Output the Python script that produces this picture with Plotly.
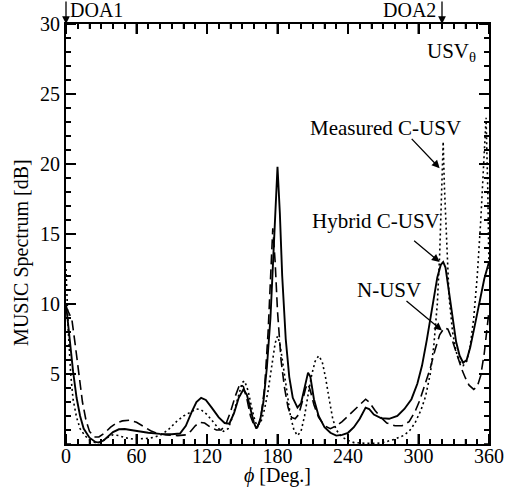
import plotly.graph_objects as go

# ---- data ----
phi_hybrid = [0, 3, 6, 9, 12, 15, 20, 25, 28, 32, 36, 40, 45, 50, 55, 60, 70, 80, 90, 97, 102, 107, 111, 115, 119, 124, 130, 135, 139, 143, 147, 151, 154, 157, 160, 162, 165, 168, 171, 174, 177, 180, 182, 184, 187, 190, 193, 197, 200, 203, 206, 208, 211, 215, 220, 225, 230, 235, 240, 245, 250, 255, 258, 262, 268, 275, 282, 288, 294, 299, 303, 307, 310, 313, 316, 319, 321, 323, 326, 329, 332, 335, 338, 341, 344, 347, 350, 353, 356, 360]
val_hybrid = [10.0, 7.5, 5.2, 3.3, 2.0, 1.1, 0.45, 0.15, 0.1, 0.25, 0.55, 0.85, 1.05, 1.07, 1.0, 0.92, 0.8, 0.72, 0.7, 0.75, 1.3, 2.3, 3.0, 3.3, 3.15, 2.6, 1.9, 1.5, 1.45, 2.2, 3.3, 3.9, 3.5, 2.5, 1.5, 1.1, 1.6, 3.0, 5.5, 9.0, 14.5, 19.8, 16.5, 12.0, 7.5, 4.8, 3.3, 2.6, 2.9, 4.0, 5.1, 4.8, 3.2, 2.0, 1.2, 0.8, 0.6, 0.65, 0.8, 1.2, 1.8, 2.6, 2.5, 2.1, 1.85, 1.8, 2.0, 2.5, 3.2, 4.3, 5.6, 7.4, 8.8, 10.5, 11.9, 12.8, 13.0, 12.6, 10.8, 8.8, 7.3, 6.3, 5.8, 6.0, 6.9, 8.1, 9.4, 10.6, 11.8, 13.0]

phi_nusv = [0, 3, 5, 8, 11, 14, 17, 20, 24, 28, 33, 38, 43, 48, 54, 60, 66, 72, 78, 85, 95, 102, 106, 110, 114, 118, 123, 128, 132, 136, 140, 144, 148, 151, 154, 157, 160, 163, 166, 169, 172, 174, 176, 178, 180, 183, 186, 189, 192, 195, 198, 201, 204, 206, 208, 211, 215, 220, 225, 230, 235, 240, 245, 250, 255, 258, 263, 268, 273, 280, 286, 292, 297, 301, 306, 310, 314, 318, 322, 325, 328, 331, 334, 337, 340, 343, 347, 350, 353, 356, 358, 360]
val_nusv = [9.8, 9.2, 8.9, 7.0, 4.8, 3.0, 1.7, 0.9, 0.5, 0.5, 0.8, 1.2, 1.5, 1.65, 1.7, 1.55, 1.25, 0.95, 0.75, 0.65, 0.6, 0.65, 0.9, 1.3, 1.55, 1.5, 1.2, 1.0, 1.0, 1.4, 2.3, 3.4, 4.3, 4.1, 3.2, 2.0, 1.35, 1.2, 2.0, 4.0, 8.0, 12.0, 15.4, 13.0, 9.5, 6.0, 4.0, 2.6, 1.9, 1.8, 2.1, 3.0, 4.0, 4.3, 3.8, 2.8, 1.9, 1.3, 1.1, 1.3, 1.6, 2.0, 2.4, 2.8, 3.2, 3.0, 2.4, 1.9, 1.5, 1.3, 1.3, 1.6, 2.3, 3.1, 4.3, 5.4, 6.7, 7.8, 8.3, 8.2, 7.6, 6.8, 6.0, 5.3, 4.7, 4.2, 3.9, 4.1, 4.9, 6.5, 8.0, 9.5]

phi_meas = [0, 2, 4, 6, 9, 12, 16, 20, 25, 30, 35, 40, 45, 50, 57, 64, 70, 76, 82, 88, 94, 100, 106, 111, 115, 120, 125, 130, 134, 138, 142, 146, 150, 152, 155, 158, 161, 163, 166, 169, 172, 175, 178, 180, 182, 185, 188, 191, 194, 197, 200, 203, 206, 209, 212, 215, 218, 221, 224, 227, 230, 235, 240, 245, 255, 265, 272, 280, 287, 292, 297, 302, 306, 310, 313, 316, 318, 320, 321, 322, 324, 326, 329, 332, 335, 338, 341, 344, 347, 350, 353, 356, 357.5, 359, 360]
val_meas = [12.5, 8.0, 5.0, 3.2, 1.9, 1.1, 0.6, 0.3, 0.1, 0.15, 0.45, 0.65, 0.6, 0.45, 0.35, 0.35, 0.4, 0.5, 0.7, 1.1, 1.6, 2.0, 2.3, 2.5, 2.45, 2.1, 1.6, 1.1, 0.9, 1.1, 2.0, 3.3, 4.4, 4.5, 3.8, 2.6, 1.6, 1.3, 1.6, 2.5, 3.8, 5.5, 7.2, 7.7, 7.2, 5.5, 3.6, 2.0, 1.0, 0.6, 0.9, 2.0, 3.5, 4.9, 5.9, 6.3, 5.9, 4.7, 3.2, 1.8, 1.0, 0.5, 0.25, 0.1, 0.05, 0.05, 0.15, 0.35, 0.6, 0.9, 1.5, 2.4, 3.4, 5.0, 7.0, 10.0, 13.5, 18.0, 21.6, 18.5, 14.0, 10.5, 8.0, 6.6, 5.9, 5.6, 5.9, 7.0, 9.0, 12.0, 16.0, 21.0, 23.3, 18.0, 12.5]

x_ticks = [0, 60, 120, 180, 240, 300, 360]
y_ticks = [5, 10, 15, 20, 25, 30]
x_minor_step = 10
y_minor_step = 1

FONT = "Liberation Serif"
TXT = dict(family=FONT, size=21, color="black")
TICKF = dict(family=FONT, size=20, color="black")

X_MIN, X_MAX = x_ticks[0], x_ticks[-1]
Y_MIN, Y_MAX = 0, y_ticks[-1]

fig = go.Figure()
fig.add_trace(go.Scatter(x=phi_meas, y=val_meas, mode="lines",
                         line=dict(color="black", width=1.6, dash="2px,3px"),
                         name="Measured C-USV"))
fig.add_trace(go.Scatter(x=phi_nusv, y=val_nusv, mode="lines",
                         line=dict(color="black", width=1.6, dash="10px,5px"),
                         name="N-USV"))
fig.add_trace(go.Scatter(x=phi_hybrid, y=val_hybrid, mode="lines",
                         line=dict(color="black", width=1.9),
                         name="Hybrid C-USV"))

axis_common = dict(
    showgrid=False, zeroline=False, showline=True, linecolor="#000000", linewidth=2,
    mirror="allticks", ticks="inside", ticklen=10, tickwidth=2, tickcolor="#000000",
    tickfont=TICKF, automargin=False,
)

fig.update_xaxes(range=[X_MIN, X_MAX], tickmode="array", tickvals=x_ticks,
                 ticklabelstandoff=-7,
                 minor=dict(dtick=x_minor_step, ticks="inside", ticklen=5, tickwidth=1.5, tickcolor="#000000"),
                 **axis_common)
fig.update_yaxes(range=[Y_MIN, Y_MAX], tickmode="array", tickvals=y_ticks,
                 minor=dict(dtick=y_minor_step, ticks="inside", ticklen=5, tickwidth=1.5, tickcolor="#000000"),
                 **axis_common)

# inside tick marks on all four sides, derived from the tick arrays (pixel-length marks)
shapes = []
for xv in range(X_MIN, X_MAX + 1, x_minor_step):
    ln = 10 if xv in x_ticks else 5
    w = 2 if xv in x_ticks else 1.5
    shapes.append(dict(type="line", xref="x", yref="y", x0=xv, x1=xv, ysizemode="pixel",
                       yanchor=Y_MIN, y0=0, y1=ln, line=dict(color="black", width=w), layer="above"))
    shapes.append(dict(type="line", xref="x", yref="y", x0=xv, x1=xv, ysizemode="pixel",
                       yanchor=Y_MAX, y0=0, y1=-ln, line=dict(color="black", width=w), layer="above"))
for yv in range(Y_MIN, Y_MAX + 1, y_minor_step):
    ln = 10 if yv in y_ticks else 5
    w = 2 if yv in y_ticks else 1.5
    shapes.append(dict(type="line", xref="x", yref="y", y0=yv, y1=yv, xsizemode="pixel",
                       xanchor=X_MIN, x0=0, x1=ln, line=dict(color="black", width=w), layer="above"))
    shapes.append(dict(type="line", xref="x", yref="y", y0=yv, y1=yv, xsizemode="pixel",
                       xanchor=X_MAX, x0=0, x1=-ln, line=dict(color="black", width=w), layer="above"))

ann = []
# axis titles
ann.append(dict(x=0.5, y=-0.076, xref="paper", yref="paper", text="<i>ϕ</i> [Deg.]", showarrow=False,
                xanchor="center", yanchor="middle", font=TICKF))
ann.append(dict(x=-0.104, y=0.455, xref="paper", yref="paper", text="MUSIC Spectrum [dB]", showarrow=False,
                textangle=-90, xanchor="center", yanchor="middle", font=TICKF))
# DOA arrows
for xv in (0, 320):
    ann.append(dict(x=xv, y=Y_MAX, xref="x", yref="y", ax=0, ay=-24, axref="pixel", ayref="pixel",
                    showarrow=True, arrowhead=2, arrowsize=1.2, arrowwidth=1.3, arrowcolor="black", text=""))
ann.append(dict(x=2, y=1.034, xref="x", yref="paper", text="DOA1", showarrow=False,
                xanchor="left", yanchor="middle", font=TICKF))
ann.append(dict(x=317, y=1.034, xref="x", yref="paper", text="DOA2", showarrow=False,
                xanchor="right", yanchor="middle", font=TICKF))
ann.append(dict(x=351, y=28.0, xref="x", yref="y", text="USV<sub>θ</sub>", showarrow=False,
                xanchor="right", yanchor="middle", font=TXT))
# labelled arrows: text, text x, text y, tail x, tail y, head x, head y
labels = [("Measured C-USV", 272, 22.6, 293, 21.9, 318, 19.7),
          ("Hybrid C-USV", 264, 15.9, 295, 14.6, 318, 13.0),
          ("N-USV", 275, 11.0, 288.5, 10.3, 320, 8.1)]
for txt, tx, ty, ax_, ay_, hx, hy in labels:
    ann.append(dict(x=hx, y=hy, xref="x", yref="y", ax=ax_, ay=ay_, axref="x", ayref="y",
                    showarrow=True, arrowhead=2, arrowsize=1.2, arrowwidth=1.3, arrowcolor="black", text=""))
    ann.append(dict(x=tx, y=ty, xref="x", yref="y", text=txt, showarrow=False,
                    xanchor="center", yanchor="middle", font=TXT))

fig.update_layout(
    width=512, height=488, margin=dict(l=66, r=23, t=24, b=44),
    paper_bgcolor="white", plot_bgcolor="white", showlegend=False,
    font=dict(family=FONT, size=20, color="black"),
    annotations=ann, shapes=shapes,
)

# remove the default 8px page margin so the figure fills the window exactly
fig.write_html("out.html", config={"displayModeBar": False},
               post_script="document.body.style.margin='0';")
